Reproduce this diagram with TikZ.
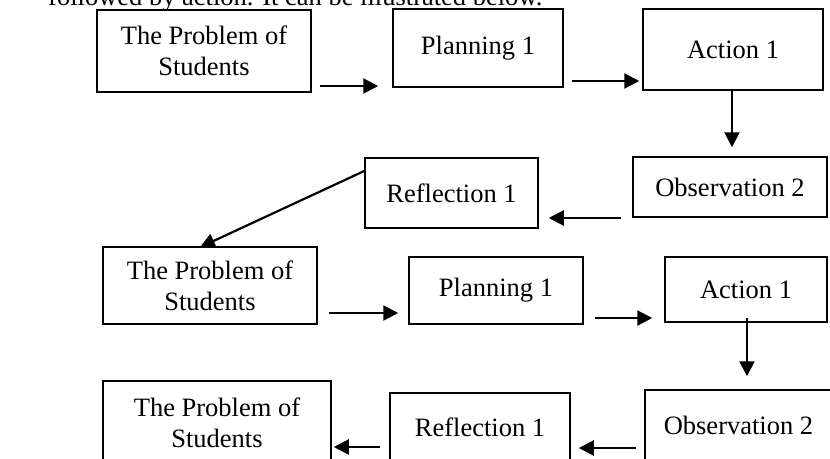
\documentclass[tikz,border=0pt]{standalone}
\usepackage{fontspec}
\setmainfont{Liberation Serif}
\usetikzlibrary{arrows.meta,calc}
\begin{document}
\begin{tikzpicture}[x=1pt,y=-1pt,
  box/.style={draw,line width=1.5pt,rectangle,inner sep=0pt,align=center,
    font=\fontsize{26.5}{31}\selectfont},
  conn/.style={line width=2.2pt,-{Triangle[length=15pt,width=15pt]}}]
\useasboundingbox (0,0) rectangle (830,458);
\clip (0,0) rectangle (830,458);
\node[anchor=base west,font=\fontsize{26.5}{31}\selectfont,inner sep=0pt] (intro) at (48,5) {followed by action. It can be illustrated below.};
% row 1
\node[box,minimum width=214pt,minimum height=82pt] (a1) at (204,51) {The Problem of\\Students};
\node[box,minimum width=170pt,minimum height=78pt] (p1) at (478,48) {Planning 1};
\node[box,minimum width=180pt,minimum height=81pt] (c1) at (733,49.5) {Action 1};
% row 2
\node[box,minimum width=194pt,minimum height=60pt] (o1) at (730,187) {Observation 2};
\node[box,minimum width=173pt,minimum height=70pt] (r1) at (451.5,193) {Reflection 1};
% row 3
\node[box,minimum width=214pt,minimum height=77pt] (a2) at (210,285.5) {The Problem of\\Students};
\node[box,minimum width=174pt,minimum height=67pt] (p2) at (496,290.5) {Planning 1};
\node[box,minimum width=162pt,minimum height=65pt] (c2) at (746,289.5) {Action 1};
% row 4
\node[box,minimum width=187pt,minimum height=70pt] (o3) at (738.5,425) {Observation 2};
\node[box,minimum width=180pt,minimum height=68pt] (r3) at (480,427) {Reflection 1};
\node[box,minimum width=228pt,minimum height=84pt] (a3) at (217,423) {The Problem of\\Students};
% connectors
\draw[conn] ($(a1.east)+(8,35)$) -- ($(p1.west)+(-14,38)$);
\draw[conn] ($(p1.east)+(8,33)$) -- ($(c1.west)+(-3,31.5)$);
\draw[conn] ($(c1.south)+(-1,-2)$) -- ($(o1.north)+(2,-9)$);
\draw[conn] ($(o1.west)+(-11,31)$) -- ($(r1.east)+(10,25)$);
\draw[conn] ($(r1.west)+(0,-22)$) -- ($(a2.north)+(-10,1)$);
\draw[conn] ($(a2.east)+(11,27.5)$) -- ($(p2.west)+(-10,22.5)$);
\draw[conn] ($(p2.east)+(11,27.5)$) -- ($(c2.west)+(-12,28.5)$);
\draw[conn] ($(c2.south)+(1,-5)$) -- ($(o3.north)+(8.5,-13)$);
\draw[conn] ($(o3.west)+(-8,23)$) -- ($(r3.east)+(8,21)$);
\draw[conn] ($(r3.west)+(-9,20)$) -- ($(a3.east)+(2,24)$);
\end{tikzpicture}
\end{document}
